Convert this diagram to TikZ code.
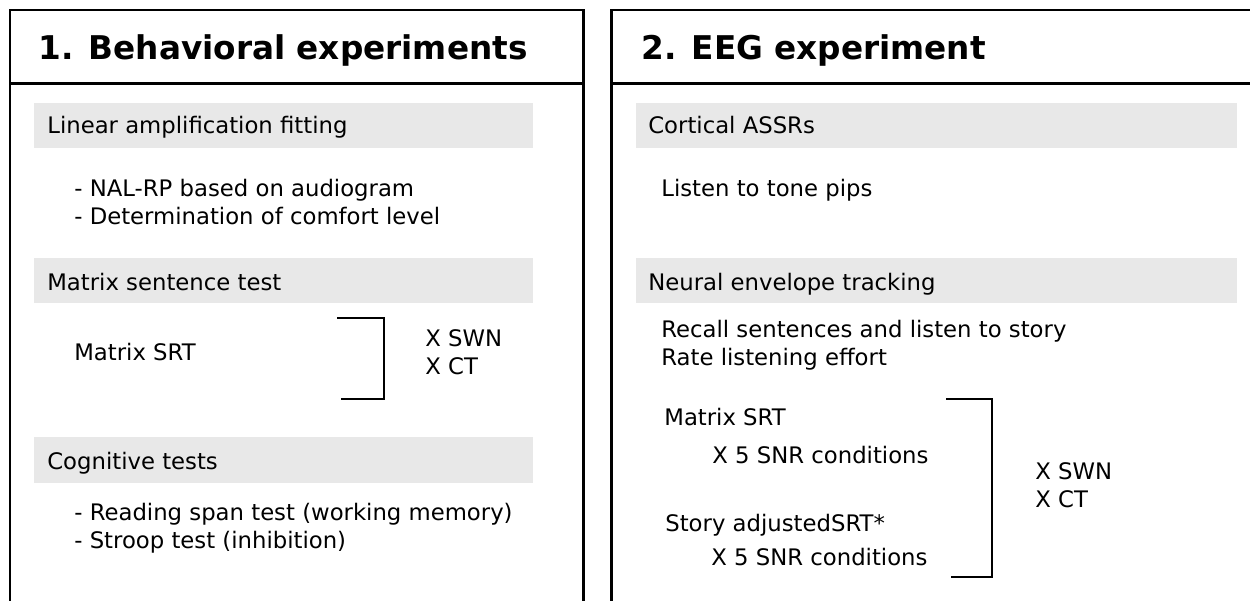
\documentclass[tikz,border=0pt]{standalone}
\usepackage{fontspec}
\setmainfont{DejaVu Sans}
\definecolor{boxgrey}{HTML}{E8E8E8}
\tikzset{
  panel/.style={line width=1.7pt},
  greybox/.style={fill=boxgrey, draw=none},
  paneltitle/.style={anchor=base west, inner sep=0pt, font=\bfseries\fontsize{18.6}{22}\selectfont},
  txt/.style={anchor=base west, inner sep=0pt, align=left, font=\fontsize{12.95}{15.9}\selectfont},
  bracket/.style={line width=1.1pt}
}

\begin{document}
\begin{tikzpicture}
\useasboundingbox (0,0) rectangle (25,-12);
\clip (0,0) rectangle (25,-12);
%% Left panel
\draw[panel] (0.2,-0.2) rectangle (11.66,-12.5);
\draw[panel] (0.2,-1.66) -- (11.66,-1.66);
\node[paneltitle] (behav) at (0.76,-1.18) {1. Behavioral experiments};
\fill[greybox] (0.68,-2.06) rectangle (10.66,-2.96);
\fill[greybox] (0.68,-5.16) rectangle (10.66,-6.06);
\fill[greybox] (0.68,-8.74) rectangle (10.66,-9.66);
\node[txt] (linamp) at (0.94,-2.66) {Linear amplification fitting};
\node[txt] (nalrp) at (1.48,-4.48) {- NAL-RP based on audiogram\\- Determination of comfort level};
\node[txt] (matrix) at (0.94,-5.8) {Matrix sentence test};
\node[txt] (msrtL) at (1.48,-7.2) {Matrix SRT};
\node[txt] (condL) at (8.5,-7.48) {X SWN\\X CT};
\node[txt] (cogn) at (0.94,-9.38) {Cognitive tests};
\node[txt] (tests) at (1.48,-10.96) {- Reading span test (working memory)\\- Stroop test (inhibition)};
%% Left bracket
\coordinate (brLa) at (6.74,-6.36);
\coordinate (brLb) at (6.82,-7.98);
\draw[bracket] (brLa) -| (7.68,-7.98) -- (brLb);
%% Right panel
\draw[panel] (12.22,-0.2) rectangle (25.74,-12.5);
\draw[panel] (12.22,-1.66) -- (25.74,-1.66);
\node[paneltitle] (eeg) at (12.82,-1.18) {2. EEG experiment};
\fill[greybox] (12.72,-2.06) rectangle (24.74,-2.96);
\fill[greybox] (12.72,-5.16) rectangle (24.74,-6.06);
\node[txt] (assr) at (12.96,-2.66) {Cortical ASSRs};
\node[txt] (pips) at (13.22,-3.92) {Listen to tone pips};
\node[txt] (neural) at (12.96,-5.8) {Neural envelope tracking};
\node[txt] (recall) at (13.22,-7.3) {Recall sentences and listen to story\\Rate listening effort};
\node[txt] (msrtR) at (13.28,-8.5) {Matrix SRT};
\node[txt] (snrA) at (14.24,-9.26) {X 5 SNR conditions};
\node[txt] (story) at (13.3,-10.62) {Story adjustedSRT*};
\node[txt] (snrB) at (14.22,-11.3) {X 5 SNR conditions};
\node[txt] (condR) at (20.7,-10.14) {X SWN\\X CT};
%% Right bracket
\coordinate (brRa) at (18.92,-7.98);
\coordinate (brRb) at (19.02,-11.54);
\draw[bracket] (brRa) -| (19.84,-11.54) -- (brRb);
\end{tikzpicture}
\end{document}
